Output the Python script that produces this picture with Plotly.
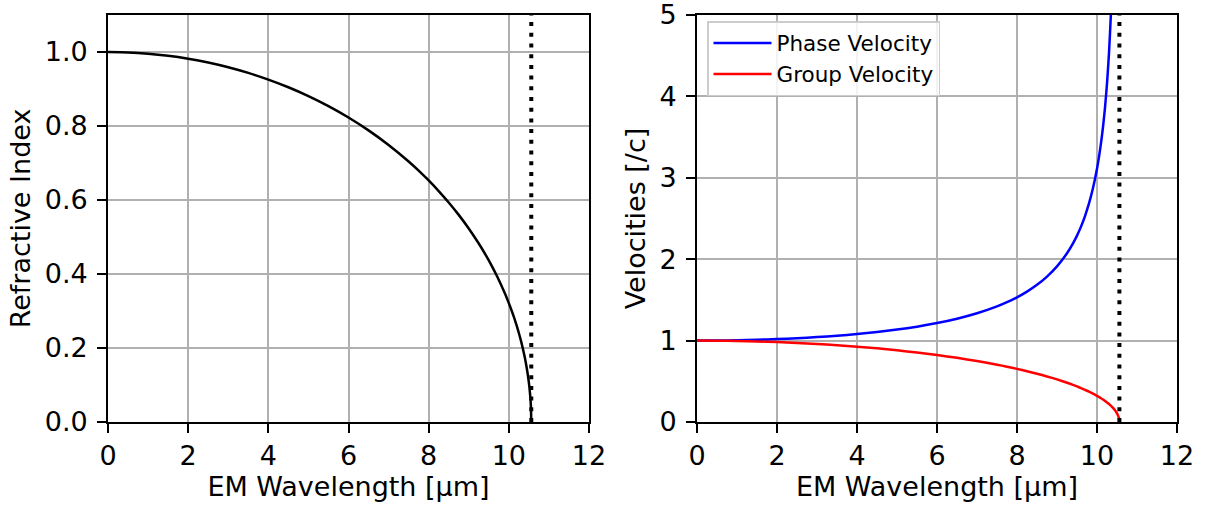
import plotly.graph_objects as go
from plotly.subplots import make_subplots

# ---- data ----
wavelength_um = [0, 0.5, 1, 1.5, 2, 2.5, 3, 3.5, 4, 4.5, 5, 5.5, 6, 6.5, 7, 7.5, 7.75, 8,
                 8.25, 8.5, 8.75, 9, 9.25, 9.4, 9.5, 9.6, 9.7, 9.8, 9.9, 10, 10.05, 10.1,
                 10.15, 10.2, 10.25, 10.3, 10.35, 10.4, 10.45, 10.48, 10.5, 10.51, 10.53,
                 10.54, 10.55, 10.56]
refractive_index = [1.0, 0.9989, 0.9955, 0.9899, 0.9819, 0.9716, 0.9588, 0.9435, 0.9255,
                    0.9047, 0.8808, 0.8537, 0.8229, 0.7881, 0.7487, 0.7040, 0.6793, 0.6528,
                    0.6242, 0.5934, 0.5598, 0.5231, 0.4824, 0.4557, 0.4367, 0.4166, 0.3953,
                    0.3725, 0.3480, 0.3213, 0.3070, 0.2919, 0.2759, 0.2589, 0.2405, 0.2205,
                    0.1984, 0.1734, 0.1440, 0.1229, 0.1065, 0.0972, 0.0753, 0.0615, 0.0435,
                    0.0]

phase_wl = [0, 0.5, 1, 1.5, 2, 2.5, 3, 3.5, 4, 4.5, 5, 5.5, 6, 6.5, 7, 7.5, 7.75, 8,
            8.25, 8.5, 8.75, 9, 9.25, 9.4, 9.5, 9.6, 9.7, 9.8, 9.9, 10, 10.05, 10.1,
            10.15, 10.2, 10.25, 10.3, 10.35, 10.375, 10.4, 10.45]
phase_velocity = [1.0, 1.0011, 1.0045, 1.0102, 1.0184, 1.0293, 1.0430, 1.0599, 1.0805,
                  1.1054, 1.1353, 1.1714, 1.2152, 1.2689, 1.3356, 1.4205, 1.4722, 1.5320,
                  1.6020, 1.6853, 1.7862, 1.9117, 2.0729, 2.1946, 2.2901, 2.4004, 2.5298,
                  2.6846, 2.8737, 3.1121, 3.2571, 3.4255, 3.6240, 3.8628, 4.1577, 4.5343,
                  5.0393, 5.366, 5.7667, 6.946]

group_wl = wavelength_um
group_velocity = refractive_index

cutoff_um = [10.56, 10.56]
cutoff_left = [0, 1.1]
cutoff_right = [0, 5]

x_ticks = [0, 2, 4, 6, 8, 10, 12]
left_y_ticks = [0.0, 0.2, 0.4, 0.6, 0.8, 1.0]
right_y_ticks = [0, 1, 2, 3, 4, 5]

# ---- figure ----
FONT = "DejaVu Sans"
FS = 27
DOT = dict(color="black", width=4, dash="4px,6.7px")
fig = make_subplots(rows=1, cols=2)

fig.add_trace(go.Scatter(x=wavelength_um, y=refractive_index, mode="lines",
                         line=dict(color="black", width=2.5, shape="spline", smoothing=0.6),
                         showlegend=False), 1, 1)
fig.add_trace(go.Scatter(x=cutoff_um, y=cutoff_left, mode="lines", line=DOT,
                         showlegend=False), 1, 1)

fig.add_trace(go.Scatter(x=phase_wl, y=phase_velocity, mode="lines", name="Phase Velocity",
                         line=dict(color="#0000ff", width=2.5, shape="spline", smoothing=0.6)), 1, 2)
fig.add_trace(go.Scatter(x=group_wl, y=group_velocity, mode="lines", name="Group Velocity",
                         line=dict(color="#ff0000", width=2.5, shape="spline", smoothing=0.6)), 1, 2)
fig.add_trace(go.Scatter(x=cutoff_um, y=cutoff_right, mode="lines", line=DOT,
                         showlegend=False), 1, 2)

W, H = 1206, 508
axis_common = dict(showline=True, linecolor="black", linewidth=1.8, mirror=True,
                   showgrid=True, gridcolor="#b0b0b0", gridwidth=1.7, zeroline=False,
                   ticks="outside", ticklen=9, tickwidth=1.8, tickcolor="black",
                   automargin=False, ticklabeloverflow="allow",
                   tickfont=dict(family=FONT, size=FS, color="black"))

fig.update_xaxes(**axis_common, range=[0, 12], tickvals=x_ticks,
                 title=dict(text="EM Wavelength [μm]", font=dict(family=FONT, size=FS, color="black"),
                            standoff=6))
fig.update_xaxes(domain=[108 / W, 589 / W], row=1, col=1)
fig.update_xaxes(domain=[697 / W, 1177 / W], row=1, col=2)

fig.update_yaxes(**axis_common, ticklabelstandoff=4)
fig.update_yaxes(domain=[1 - 422 / H, 1 - 15 / H])
fig.update_yaxes(range=[0, 1.1], tickvals=left_y_ticks,
                 ticktext=[f"{v:.1f}" for v in left_y_ticks],
                 title=dict(text="Refractive Index", font=dict(family=FONT, size=FS, color="black"),
                            standoff=6), row=1, col=1)
fig.update_yaxes(range=[0, 5], tickvals=right_y_ticks,
                 title=dict(text="Velocities [/c]", font=dict(family=FONT, size=FS, color="black"),
                            standoff=6), row=1, col=2)

fig.update_layout(
    width=W, height=H,
    margin=dict(l=0, r=0, t=0, b=0),
    paper_bgcolor="white", plot_bgcolor="white",
    font=dict(family=FONT, color="black"),
    showlegend=True,
    legend=dict(x=707 / W, y=1 - 21 / H, xanchor="left", yanchor="top",
                bgcolor="rgba(255,255,255,0.85)", bordercolor="#cccccc", borderwidth=1.5,
                itemwidth=58,
                font=dict(family=FONT, size=21.5, color="black"), tracegroupgap=0),
)

fig.write_html("out.html")
